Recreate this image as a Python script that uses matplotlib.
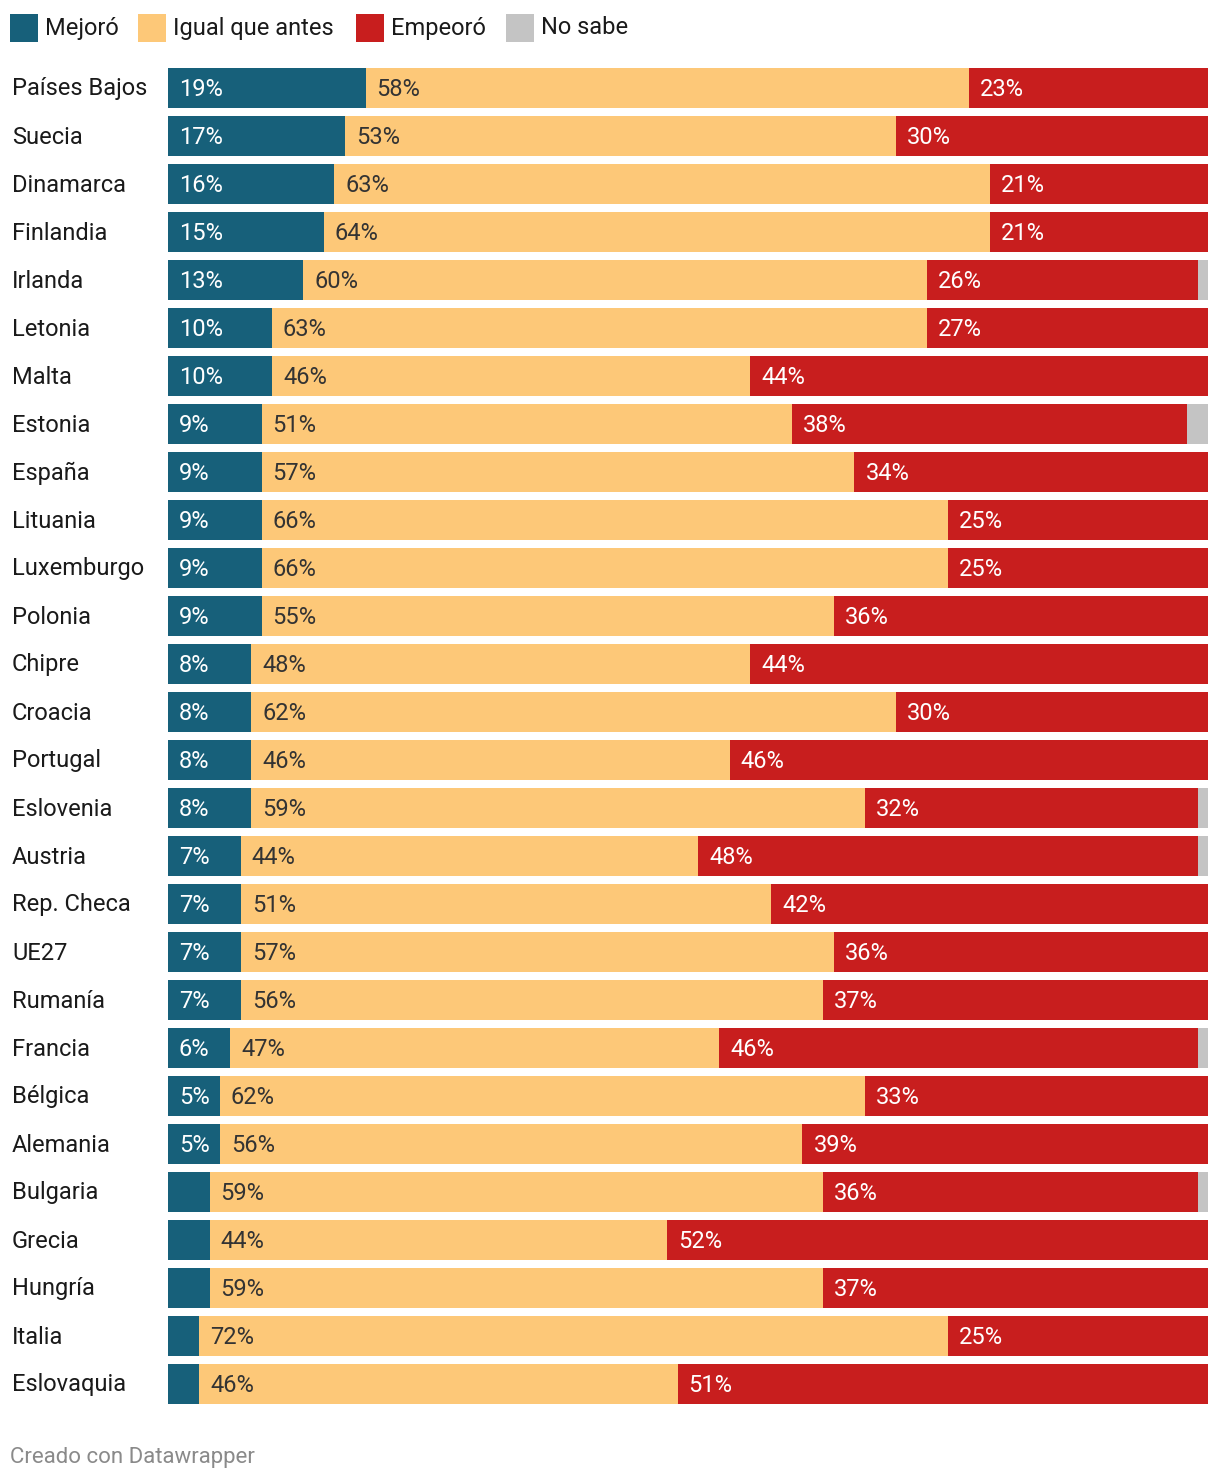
import matplotlib.pyplot as plt
from matplotlib.patches import Rectangle

paises = ['Países Bajos', 'Suecia', 'Dinamarca', 'Finlandia', 'Irlanda', 'Letonia',
          'Malta', 'Estonia', 'España', 'Lituania', 'Luxemburgo', 'Polonia', 'Chipre',
          'Croacia', 'Portugal', 'Eslovenia', 'Austria', 'Rep. Checa', 'UE27', 'Rumanía',
          'Francia', 'Bélgica', 'Alemania', 'Bulgaria', 'Grecia', 'Hungría', 'Italia',
          'Eslovaquia']
mejoro = [19, 17, 16, 15, 13, 10, 10, 9, 9, 9, 9, 9, 8, 8, 8, 8, 7, 7, 7, 7, 6, 5, 5, 4, 4, 4, 3, 3]
igual = [58, 53, 63, 64, 60, 63, 46, 51, 57, 66, 66, 55, 48, 62, 46, 59, 44, 51, 57, 56, 47, 62, 56, 59, 44, 59, 72, 46]
empeoro = [23, 30, 21, 21, 26, 27, 44, 38, 34, 25, 25, 36, 44, 30, 46, 32, 48, 42, 36, 37, 46, 33, 39, 36, 52, 37, 25, 51]
no_sabe = [0, 0, 0, 0, 1, 0, 0, 2, 0, 0, 0, 0, 0, 0, 0, 1, 1, 0, 0, 0, 1, 0, 0, 1, 0, 0, 0, 0]

series = [
    ('Mejoró', mejoro, '#17607a', 'white'),
    ('Igual que antes', igual, '#fdc878', '#333333'),
    ('Empeoró', empeoro, '#c81e1e', 'white'),
    ('No sabe', no_sabe, '#c4c4c4', '#333333'),
]

plt.rcParams['font.family'] = ['Roboto', 'DejaVu Sans']

W, H = 1220, 1482
fig = plt.figure(figsize=(W / 100, H / 100), dpi=100)
# ejes: barras de x=168 a 1208 px, filas de y=64 a 1408 px
ax = fig.add_axes([168 / W, 1 - 1408 / H, 1040 / W, 1344 / H])
ax.set_xlim(0, 100)
ax.set_ylim(len(paises) - 0.5, -0.5)
ax.axis('off')

y = list(range(len(paises)))
izq = [0] * len(paises)
for nombre, vals, color, tcolor in series:
    ax.barh(y, vals, left=izq, height=40 / 48, color=color, linewidth=0)
    if nombre != 'No sabe':
        for i, v in enumerate(vals):
            if v >= 5:
                ax.annotate(f'{v}%', (izq[i], i), xytext=(11, -1), textcoords='offset pixels',
                            ha='left', va='center', color=tcolor, fontsize=17)
    izq = [a + b for a, b in zip(izq, vals)]

for i, p in enumerate(paises):
    ax.annotate(p, (0, i), xycoords=('figure pixels', 'data'), xytext=(12, -1),
                textcoords='offset pixels', ha='left', va='center',
                color='#1a1a1a', fontsize=17)

# leyenda
leg_x = [10, 138, 356, 506]
for (nombre, vals, color, tcolor), x0 in zip(series, leg_x):
    fig.patches.append(Rectangle((x0 / W, 1 - 42 / H), 28 / W, 28 / H,
                                 transform=fig.transFigure, color=color, linewidth=0))
    fig.text((x0 + 35) / W, 1 - 28 / H, nombre, ha='left', va='center',
             fontsize=17, color='#1a1a1a')

fig.text(10 / W, 1 - 1458 / H, 'Creado con Datawrapper', ha='left', va='center',
         fontsize=16, color='#8a8a8a')

fig.savefig('out.png', dpi=100, facecolor='white')
